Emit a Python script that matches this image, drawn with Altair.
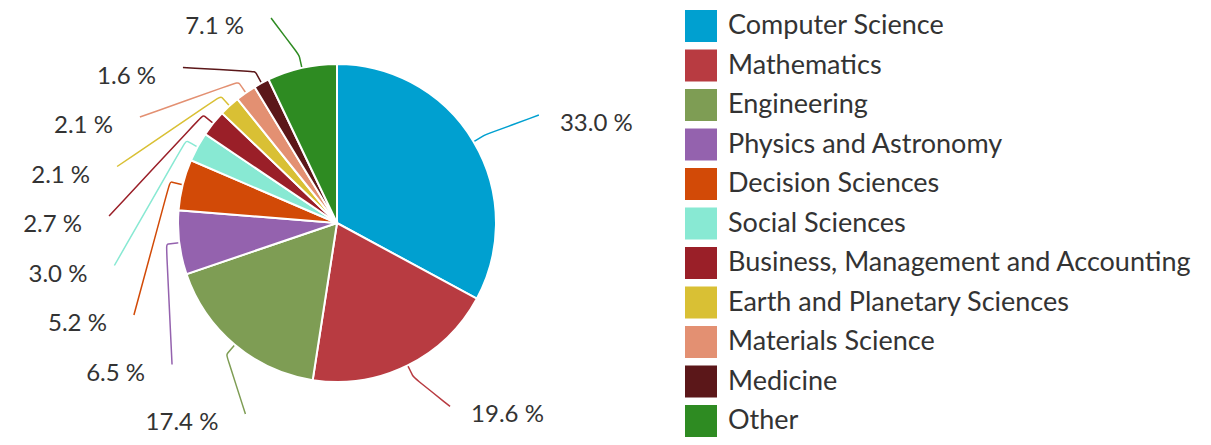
import math
import altair as alt
import numpy as np
import pandas as pd

categories = [
    "Computer Science",
    "Mathematics",
    "Engineering",
    "Physics and Astronomy",
    "Decision Sciences",
    "Social Sciences",
    "Business, Management and Accounting",
    "Earth and Planetary Sciences",
    "Materials Science",
    "Medicine",
    "Other",
]
values = [33.0, 19.6, 17.4, 6.5, 5.2, 3.0, 2.7, 2.1, 2.1, 1.6, 7.1]
colors = [
    "#00A0D0", "#B83B41", "#7E9D54", "#9462AE", "#D24A07", "#88E9D3",
    "#9A1F28", "#D9C034", "#E39072", "#5B1719", "#2E8B22",
]
labels = [f"{v:.1f} %" for v in values]

# ---- layout constants ----
W, H = 1195, 429
CX, CY = 329, 215          # pie centre (view px)
R = 159
LCY = 222                  # centre of the label ellipse (view px)
LA, LB = 255, 218          # label ellipse half-axes
SPACING = 49.5
LEFT_MID = 217             # centre of the stacked left-side labels
FONT = "Lato"
TXT = "#333333"

vals = np.array(values)
total = vals.sum()
start = np.cumsum(vals) - vals
mid = (start + vals / 2) / total * 2 * math.pi

left_idx = [i for i in range(len(values)) if mid[i] > math.pi]
left_idx.sort(key=lambda i: mid[i])
n_left = len(left_idx)
label_y = {}
for k, i in enumerate(left_idx):
    label_y[i] = LEFT_MID + ((n_left - 1) / 2 - k) * SPACING
for i in range(len(values)):
    if i not in label_y:
        label_y[i] = LCY - 207 * math.cos(mid[i])

text_rows_l, text_rows_r, line_rows = [], [], []
for i, cat in enumerate(categories):
    y = label_y[i]
    dy = y - LCY
    dx = LA * math.sqrt(max(0.0, 1 - (dy / LB) ** 2))
    left = i in left_idx
    tx = CX - dx if left else CX + dx
    row = {"cat": cat, "label": labels[i], "tx": tx, "ty": y}
    (text_rows_l if left else text_rows_r).append(row)
    ex, ey = (tx + 27, y - 9) if left else (tx - 21, y - 9)
    a = mid[i]
    pts = [
        (CX + R * math.sin(a), CY - R * math.cos(a)),
        (CX + (R + 13) * math.sin(a), CY - (R + 13) * math.cos(a)),
        (CX + (R + 13) * math.sin(a), CY - (R + 13) * math.cos(a)),
        (ex, ey),
    ]
    for k, (px, py) in enumerate(pts):
        line_rows.append({"lcat": cat, "k": k, "px": px, "py": py})

pie_df = pd.DataFrame({"cat": categories, "value": values, "ord": range(len(values))})
tl_df = pd.DataFrame(text_rows_l)
tr_df = pd.DataFrame(text_rows_r)
ln_df = pd.DataFrame(line_rows)

pie = alt.Chart(pie_df).mark_arc(radius=R, stroke="white", strokeWidth=2).encode(
    theta=alt.Theta("value:Q", stack=True),
    order=alt.Order("ord:Q"),
    color=alt.Color(
        "cat:N",
        scale=alt.Scale(domain=categories, range=colors),
        sort=categories,
        legend=alt.Legend(
            title=None,
            orient="none",
            legendX=677,
            legendY=2,
            padding=0,
            symbolType="square",
            symbolSize=1024,
            symbolStrokeWidth=0,
            symbolOpacity=1,
            labelFont=FONT,
            labelFontSize=27,
            labelColor=TXT,
            labelLimit=0,
            labelOffset=11,
            rowPadding=7.5,
        ),
    ),
    x=alt.value(CX),
    y=alt.value(CY),
)

lines = alt.Chart(ln_df).mark_line(strokeWidth=1.5, interpolate="basis").encode(
    x=alt.X("px:Q", scale=None, axis=None),
    y=alt.Y("py:Q", scale=None, axis=None),
    detail="lcat:N",
    order=alt.Order("k:Q"),
    stroke=alt.Stroke("lcat:N", scale=alt.Scale(domain=categories, range=colors), legend=None),
)

text_l = alt.Chart(tl_df).mark_text(
    align="right", baseline="middle", font=FONT, fontSize=24, color=TXT
).encode(
    x=alt.X("tx:Q", scale=None, axis=None),
    y=alt.Y("ty:Q", scale=None, axis=None),
    text="label:N",
)
text_r = alt.Chart(tr_df).mark_text(
    align="left", baseline="middle", font=FONT, fontSize=24, color=TXT
).encode(
    x=alt.X("tx:Q", scale=None, axis=None),
    y=alt.Y("ty:Q", scale=None, axis=None),
    text="label:N",
)

chart = (
    alt.layer(lines, pie, text_l, text_r)
    .resolve_scale(color="independent", stroke="independent")
    .resolve_legend(color="independent", stroke="independent")
    .properties(width=W, height=H, padding=0, autosize="none")
    .configure_view(stroke=None)
)

chart.save("out.html", embed_options={"renderer": "svg", "actions": False})
